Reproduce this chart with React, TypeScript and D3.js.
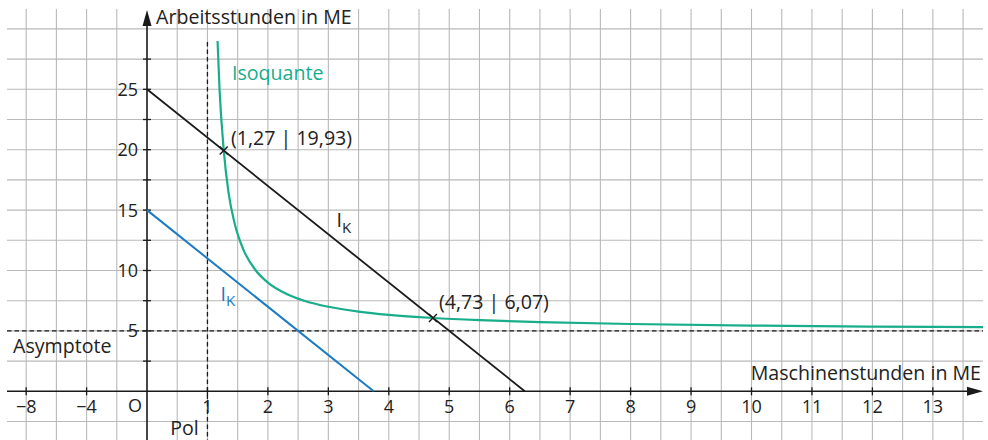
import React from "react";
import * as d3 from "d3";

// ---- data ----
const xTickValues = [-8, -4, 1, 2, 3, 4, 5, 6, 7, 8, 9, 10, 11, 12, 13];
const yTickValues = [5, 10, 15, 20, 25];
const xGridValues = [-8, -6, -4, -2, 0.5, 1, 1.5, 2, 2.5, 3, 3.5, 4, 4.5, 5, 5.5, 6, 6.5, 7, 7.5, 8, 8.5, 9, 9.5, 10, 10.5, 11, 11.5, 12, 12.5, 13, 13.5];
const yGridValues = [-2.5, 2.5, 5, 7.5, 10, 12.5, 15, 17.5, 20, 22.5, 25, 27.5, 30];
const yMinorTicks = [2.5, 7.5, 12.5, 17.5, 22.5, 27.5];

// isoquant
const isoU = [1.167, 1.2, 1.27, 1.35, 1.45, 1.6, 1.8, 2.0, 2.3, 2.6, 3.0, 3.5, 4.0, 4.73, 5.5, 6.5, 8, 10, 12, 13.83];
const isoV = [29.0, 25.0, 19.93, 16.4, 13.9, 11.67, 10.0, 9.0, 8.08, 7.5, 7.0, 6.6, 6.33, 6.07, 5.89, 5.73, 5.57, 5.44, 5.36, 5.31];

const costLineHigh: [number, number][] = [[0, 25], [6.25, 0]];
const costLineLow: [number, number][] = [[0, 15], [3.75, 0]];

const pole = 1;
const asymptote = 5;

const markedPoints = [
  { u: 1.27, v: 19.93, label: "(1,27 | 19,93)" },
  { u: 4.73, v: 6.07, label: "(4,73 | 6,07)" },
];

const FONT = "'Open Sans', Lato, sans-serif";
const TEAL = "#18ad8b";
const BLUE = "#1b7bc1";
const INK = "#1a1a1a";
const TXT = "#222";

export default function App() {
  const unit = 60.45;
  const x = d3.scaleLinear().domain([-8, 0, 14]).range([26.2, 147, 147 + 14 * unit]);
  const y = d3.scaleLinear().domain([0, 25]).range([391.3, 89.3]);

  const left = 7;
  const right = 983;
  const top = 9;
  const bottom = 440;

  const line = d3.line<[number, number]>().x((d) => x(d[0])).y((d) => y(d[1]));
  const isoLine = d3
    .line<number>()
    .x((_, i) => x(isoU[i]))
    .y((d) => y(d))
    .curve(d3.curveMonotoneX);

  const x0 = x(0);
  const y0 = y(0);

  return (
    <svg
      width={988}
      height={440}
      style={{ position: "absolute", left: 0, top: 0, background: "#fff" }}
      fontFamily={FONT}
    >
      <rect x={0} y={0} width={988} height={440} fill="#fff" />
      {/* grid */}
      <g stroke="#b9b9b9" strokeWidth={1.1}>
        {xGridValues.map((u) => (
          <line key={"gx" + u} x1={x(u)} x2={x(u)} y1={top} y2={bottom} />
        ))}
        {yGridValues.map((v) => (
          <line key={"gy" + v} x1={left} x2={right} y1={y(v)} y2={y(v)} />
        ))}
      </g>

      {/* dashed pole and asymptote */}
      <g stroke={INK} strokeWidth={1.3} strokeDasharray="4.5,3">
        <line x1={x(pole)} x2={x(pole)} y1={42} y2={bottom} />
        <line x1={left} x2={right} y1={y(asymptote)} y2={y(asymptote)} />
      </g>

      {/* axes */}
      <g stroke={INK} strokeWidth={1.6}>
        <line x1={left} x2={right - 8} y1={y0} y2={y0} />
        <line x1={x0} x2={x0} y1={bottom} y2={20} />
        {xTickValues.map((u) => (
          <line key={"tx" + u} x1={x(u)} x2={x(u)} y1={y0 - 4} y2={y0 + 4} strokeWidth={1.3} />
        ))}
        {yTickValues.concat(yMinorTicks).map((v) => (
          <line key={"ty" + v} x1={x0 - 4} x2={x0 + 4} y1={y(v)} y2={y(v)} strokeWidth={1.3} />
        ))}
      </g>
      <path d={`M${right},${y0} L${right - 16},${y0 - 4.5} L${right - 16},${y0 + 4.5} Z`} fill={INK} />
      <path d={`M${x0},${10} L${x0 - 4.5},${26} L${x0 + 4.5},${26} Z`} fill={INK} />

      {/* cost lines */}
      <path d={line(costLineLow) || ""} stroke={BLUE} strokeWidth={2} fill="none" />
      <path d={line(costLineHigh) || ""} stroke={INK} strokeWidth={1.8} fill="none" />

      {/* isoquant */}
      <path d={isoLine(isoV) || ""} stroke={TEAL} strokeWidth={2.2} fill="none" />

      {/* marked points */}
      {markedPoints.map((p) => (
        <g key={p.label} stroke={INK} strokeWidth={1.4}>
          <line x1={x(p.u) - 4} x2={x(p.u) + 4} y1={y(p.v) - 4} y2={y(p.v) + 4} />
          <line x1={x(p.u) - 4} x2={x(p.u) + 4} y1={y(p.v) + 4} y2={y(p.v) - 4} />
        </g>
      ))}

      {/* tick labels */}
      <g fontSize={18} fill={TXT}>
        {yTickValues.map((v) => (
          <text key={"ly" + v} x={x0 - 9} y={y(v) + 6.5} textAnchor="end">
            {v}
          </text>
        ))}
        {xTickValues.map((u) => (
          <text key={"lx" + u} x={x(u)} y={413} textAnchor="middle">
            {u < 0 ? "\u2212" + Math.abs(u) : u}
          </text>
        ))}
        <text x={135} y={412} textAnchor="middle">O</text>
      </g>

      {/* word labels */}
      <g fontSize={19.6} fill={TXT}>
        <text x={156} y={24}>Arbeitsstunden in ME</text>
        <text x={981} y={380} textAnchor="end">Maschinenstunden in ME</text>
        <text x={13} y={353}>Asymptote</text>
        <text x={184.5} y={435} textAnchor="middle">Pol</text>
        <text x={231} y={145}>{markedPoints[0].label}</text>
        <text x={439} y={309}>{markedPoints[1].label}</text>
        <text x={232} y={80} fill={TEAL}>Isoquante</text>
        <text x={336.5} y={227}>
          I<tspan fontSize={15} dy={6}>K</tspan>
        </text>
        <text x={220.5} y={300.5} fill={BLUE}>
          I<tspan fontSize={15} dy={5.5}>K</tspan>
        </text>
      </g>
    </svg>
  );
}
